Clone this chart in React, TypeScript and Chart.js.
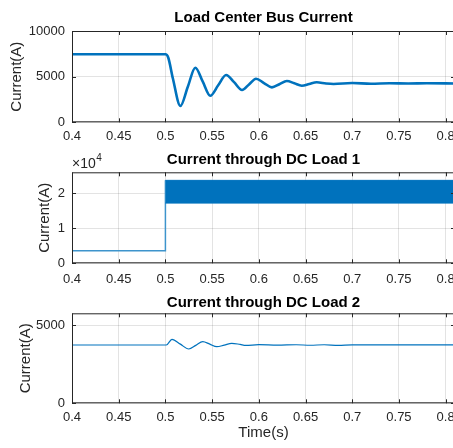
import React, { useEffect, useRef } from "react";
import { Chart, registerables } from "chart.js";

Chart.register(...registerables);

// ---- Data ----
const timeTicks = [0.4, 0.45, 0.5, 0.55, 0.6, 0.65, 0.7, 0.75, 0.8];
const timeTickLabels = ["0.4", "0.45", "0.5", "0.55", "0.6", "0.65", "0.7", "0.75", "0.8"];

const busTicks = [0, 5000, 10000];
const busTickLabels = ["0", "5000", "10000"];
const busTime = [0.4, 0.5, 0.503, 0.508, 0.516, 0.524, 0.532, 0.54, 0.548, 0.5565, 0.565, 0.5735, 0.582, 0.5895, 0.597, 0.6055, 0.614, 0.622, 0.63, 0.638, 0.646, 0.654, 0.662, 0.672, 0.68, 0.7, 0.72, 0.74, 0.76, 0.78, 0.81];
const busCurrent = [7450, 7450, 7100, 4800, 1790, 3900, 5980, 4450, 2910, 4050, 5180, 4400, 3540, 4150, 4775, 4300, 3830, 4170, 4520, 4270, 4010, 4200, 4380, 4250, 4200, 4300, 4230, 4280, 4250, 4270, 4250];

const load1Ticks = [0, 10000, 20000];
const load1TickLabels = ["0", "1", "2"];
const load1StepTime = [0.4, 0.5, 0.5];
const load1StepCurrent = [3600, 3600, 23700];
const load1BandTime = [0.5, 0.81];
const load1BandUpper = [23700, 23700];
const load1BandLower = [17200, 17200];

const load2Ticks = [0, 5000];
const load2TickLabels = ["0", "5000"];
const load2Time = [0.4, 0.501, 0.507, 0.516, 0.525, 0.5325, 0.54, 0.5475, 0.555, 0.563, 0.571, 0.58, 0.586, 0.6, 0.62, 0.64, 0.655, 0.67, 0.685, 0.7, 0.81];
const load2Current = [3725, 3725, 4090, 3780, 3470, 3700, 3937, 3780, 3617, 3720, 3834, 3760, 3700, 3745, 3715, 3740, 3710, 3740, 3700, 3735, 3735];

const timeMin = 0.4;
const timeMax = 0.81;

const FONT = "'Liberation Sans', Arial, Helvetica, sans-serif";
const BLUE = "#0072BD";
const AXIS = "#262626";

const toPts = (xs: number[], ys: number[]) => xs.map((x, i) => ({ x, y: ys[i] }));

const framePlugin = {
  id: "frame",
  afterDatasetsDraw(chart: any) {
    const { ctx, chartArea: a, scales } = chart;
    const x = scales.x;
    const y = scales.y;
    ctx.save();
    ctx.strokeStyle = AXIS;
    ctx.lineWidth = 1;
    ctx.beginPath();
    ctx.rect(a.left + 0.5, a.top + 0.5, a.right - a.left - 1, a.bottom - a.top - 1);
    ctx.stroke();
    const tl = 4;
    ctx.beginPath();
    x.ticks.forEach((t: any) => {
      const px = Math.round(x.getPixelForValue(t.value)) + 0.5;
      ctx.moveTo(px, a.bottom);
      ctx.lineTo(px, a.bottom - tl);
      ctx.moveTo(px, a.top);
      ctx.lineTo(px, a.top + tl);
    });
    y.ticks.forEach((t: any) => {
      const py = Math.round(y.getPixelForValue(t.value)) + 0.5;
      ctx.moveTo(a.left, py);
      ctx.lineTo(a.left + tl, py);
      ctx.moveTo(a.right, py);
      ctx.lineTo(a.right - tl, py);
    });
    ctx.stroke();
    ctx.restore();
  },
};

const exponentPlugin = {
  id: "exponent",
  afterDraw(chart: any) {
    const opts = chart.options.plugins.exponent;
    if (!opts || !opts.display) return;
    const { ctx, chartArea: a } = chart;
    ctx.save();
    ctx.fillStyle = AXIS;
    ctx.textBaseline = "middle";
    ctx.textAlign = "left";
    ctx.font = `14px ${FONT}`;
    const base = "\u00d710";
    ctx.fillText(base, a.left, a.top - 8.5);
    const w = ctx.measureText(base).width;
    ctx.font = `10px ${FONT}`;
    ctx.fillText("4", a.left + w + 0.5, a.top - 14);
    ctx.restore();
  },
};

interface PanelProps {
  top: number;
  height: number;
  title: string;
  titlePad: { top: number; bottom: number };
  datasets: any[];
  yMax: number;
  yTicks: number[];
  yTickLabels: string[];
  yTitlePad: number;
  xHeight: number;
  xPad: number;
  xTitle?: string;
  xTitlePadBottom?: number;
  exponent?: boolean;
}

function Panel(p: PanelProps) {
  const ref = useRef<HTMLCanvasElement | null>(null);
  useEffect(() => {
    if (!ref.current) return;
    const chart = new Chart(ref.current, {
      type: "line",
      data: { datasets: p.datasets },
      plugins: [framePlugin, exponentPlugin],
      options: {
        animation: false,
        responsive: false,
        devicePixelRatio: 1,
        layout: { padding: { left: 0, right: 25, top: 0, bottom: 0 } },
        elements: { point: { radius: 0 } },
        plugins: {
          legend: { display: false },
          tooltip: { enabled: false },
          title: {
            display: true,
            text: p.title,
            fullSize: false,
            color: "#000",
            font: { family: FONT, size: 15, weight: "bold" },
            padding: p.titlePad,
          },
          exponent: { display: !!p.exponent },
        } as any,
        scales: {
          x: {
            type: "linear",
            min: timeMin,
            max: timeMax,
            afterBuildTicks: (s: any) => {
              s.ticks = timeTicks.map((v) => ({ value: v }));
            },
            afterFit: (s: any) => {
              s.height = p.xHeight;
            },
            ticks: {
              color: AXIS,
              padding: p.xPad,
              maxRotation: 0,
              autoSkip: false,
              font: { family: FONT, size: 13 },
              callback: (_v: any, i: number) => timeTickLabels[i],
            },
            grid: { color: "rgba(38,38,38,0.13)", drawTicks: false },
            border: { display: false },
            title: p.xTitle
              ? {
                  display: true,
                  text: p.xTitle,
                  color: AXIS,
                  font: { family: FONT, size: 15 },
                  padding: { top: 0, bottom: p.xTitlePadBottom ?? 0 },
                }
              : { display: false },
          },
          y: {
            type: "linear",
            min: 0,
            max: p.yMax,
            afterBuildTicks: (s: any) => {
              s.ticks = p.yTicks.map((v) => ({ value: v }));
            },
            afterFit: (s: any) => {
              s.width = 72;
            },
            ticks: {
              color: AXIS,
              padding: 7,
              font: { family: FONT, size: 13 },
              callback: (_v: any, i: number) => p.yTickLabels[i],
            },
            grid: { color: "rgba(38,38,38,0.13)", drawTicks: false },
            border: { display: false },
            title: {
              display: true,
              text: "Current(A)",
              color: AXIS,
              font: { family: FONT, size: 15 },
              padding: { top: p.yTitlePad, bottom: 0 },
            },
          },
        },
      } as any,
    });
    return () => chart.destroy();
  }, []);
  return (
    <canvas
      ref={ref}
      width={480}
      height={p.height}
      style={{ position: "absolute", left: 0, top: p.top, width: 480, height: p.height }}
    />
  );
}

export default function App() {
  const busSets = [
    {
      data: toPts(busTime, busCurrent),
      borderColor: BLUE,
      borderWidth: 2.6,
      cubicInterpolationMode: "monotone",
      fill: false,
    },
  ];
  const load1Sets = [
    {
      data: toPts(load1BandTime, load1BandUpper),
      borderColor: BLUE,
      backgroundColor: BLUE,
      borderWidth: 1,
      fill: "+1",
    },
    {
      data: toPts(load1BandTime, load1BandLower),
      borderColor: BLUE,
      borderWidth: 1,
      fill: false,
    },
    {
      data: toPts(load1StepTime, load1StepCurrent),
      borderColor: "#3d94cc",
      borderWidth: 1.5,
      fill: false,
    },
  ];
  const load2Sets = [
    {
      data: toPts(load2Time, load2Current),
      borderColor: BLUE,
      borderWidth: 1.2,
      cubicInterpolationMode: "monotone",
      fill: false,
    },
  ];
  return (
    <div
      style={{
        position: "fixed",
        left: 0,
        top: 0,
        width: 453,
        height: 448,
        overflow: "hidden",
        background: "#fff",
      }}
    >
      <Panel
        top={0}
        height={145}
        title="Load Center Bus Current"
        titlePad={{ top: 9.3, bottom: 3.7 }}
        datasets={busSets}
        yMax={10000}
        yTicks={busTicks}
        yTickLabels={busTickLabels}
        yTitlePad={7.5}
        xHeight={22.7}
        xPad={6.6}
      />
      <Panel
        top={145}
        height={145}
        title="Current through DC Load 1"
        titlePad={{ top: 6, bottom: 3.3 }}
        datasets={load1Sets}
        yMax={26000}
        yTicks={load1Ticks}
        yTickLabels={load1TickLabels}
        yTitlePad={36}
        xHeight={26.7}
        xPad={8.2}
        exponent
      />
      <Panel
        top={290}
        height={158}
        title="Current through DC Load 2"
        titlePad={{ top: 4.3, bottom: 1 }}
        datasets={load2Sets}
        yMax={5750}
        yTicks={load2Ticks}
        yTickLabels={load2TickLabels}
        yTitlePad={17}
        xHeight={44.7}
        xPad={6.2}
        xTitle="Time(s)"
        xTitlePadBottom={5.7}
      />
    </div>
  );
}
